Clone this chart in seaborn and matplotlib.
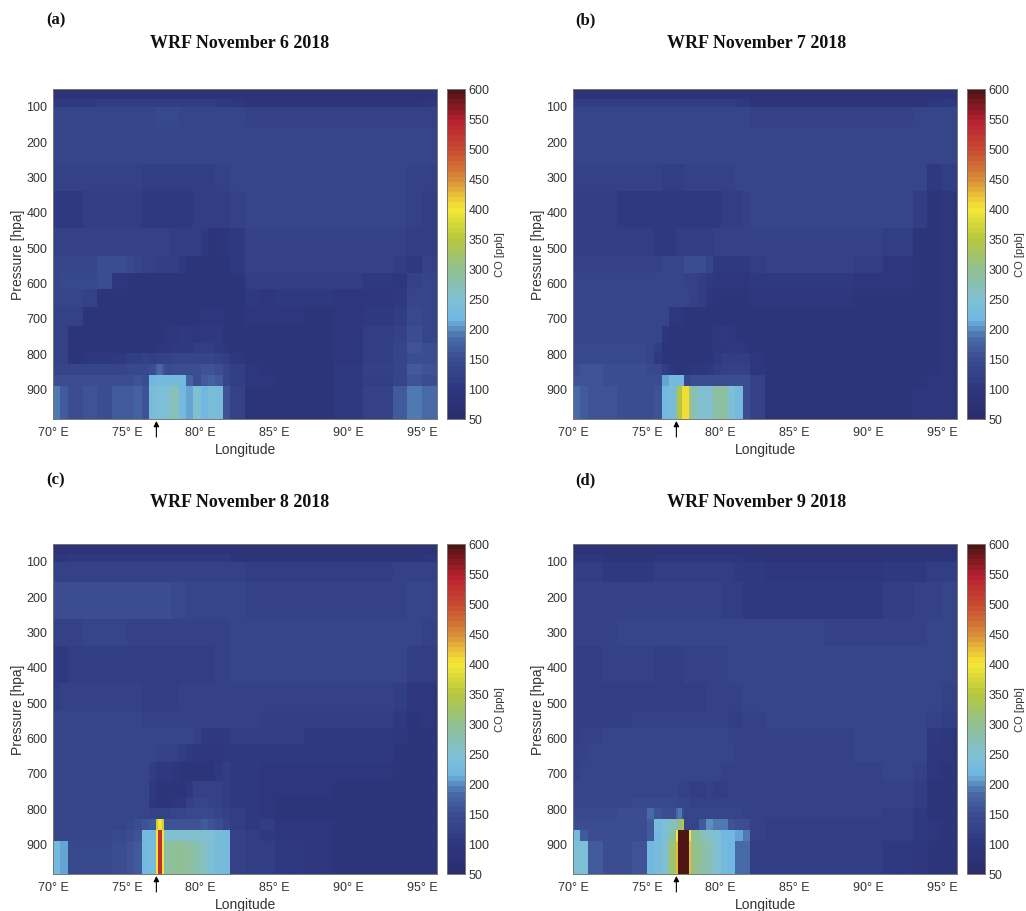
import numpy as np
import seaborn as sns
import matplotlib.pyplot as plt
from matplotlib.colors import LinearSegmentedColormap, ListedColormap

# cell edges of the model grid
lon_edges = [70, 70.5, 71, 72, 73, 74, 75, 75.5, 76, 76.5, 77, 77.125, 77.375, 77.5, 77.875, 78, 78.5,
             79, 79.5, 80, 80.5, 81, 81.5, 82, 83, 84, 85, 87, 89, 91, 93, 94, 95, 96]
p_edges = [52, 80, 104, 160, 263, 339, 442, 522, 569, 615, 666, 718, 766, 794, 827, 858, 888, 982]

co_nov6 = [
    [82,82,82,82,82,82,82,82,82,82,82,82,82,82,82,82,82,82,82,82,82,80,80,78,76,76,76,76,76,76,76,76,76],
    [108,108,110,110,112,112,112,112,112,112,112,112,112,112,112,112,112,112,112,112,112,108,105,95,88,88,88,88,88,90,90,92,95],
    [130,130,133,135,135,135,135,135,135,135,137,137,137,137,137,137,135,135,135,135,135,135,135,128,120,120,122,122,122,122,122,125,125],
    [130,130,130,130,130,130,130,130,130,130,130,130,130,130,130,130,130,130,130,130,130,130,130,130,130,130,130,130,130,130,130,130,128],
    [122,122,122,122,123,123,123,120,118,118,118,118,118,118,118,118,118,116,116,116,118,120,122,128,130,130,130,130,130,130,130,125,122],
    [102,102,105,112,115,115,115,112,108,108,106,106,108,110,110,110,110,110,112,112,114,116,118,125,130,130,130,130,130,130,128,120,115],
    [125,125,125,125,125,125,125,122,120,120,120,120,120,120,118,118,118,115,112,108,92,88,95,110,122,125,125,125,125,125,120,112,112],
    [130,130,132,135,145,145,140,130,122,120,118,118,115,115,112,112,105,90,86,85,85,85,85,102,122,125,125,125,125,122,115,110,125],
    [135,138,140,142,146,100,88,88,86,86,85,85,85,85,85,85,85,85,85,85,85,85,85,88,115,118,118,118,118,108,100,125,135],
    [130,132,135,125,88,86,85,85,85,85,85,85,85,85,85,85,85,85,85,85,85,85,85,90,105,100,105,105,95,100,110,135,135],
    [125,125,125,86,85,85,85,85,85,85,85,85,85,85,85,85,85,85,85,95,100,100,92,90,100,95,100,92,100,108,115,140,135],
    [120,120,88,85,85,85,85,85,85,85,85,85,85,95,100,100,105,105,100,105,110,105,92,90,90,90,88,88,100,112,125,150,135],
    [120,120,86,85,85,85,85,85,85,88,95,95,95,98,100,105,105,110,112,115,115,105,100,92,88,88,88,88,100,115,130,160,145],
    [125,125,92,95,100,110,115,118,120,118,122,122,122,125,125,128,130,130,132,130,128,125,112,100,92,90,88,88,100,118,135,150,150],
    [135,135,135,135,135,135,138,140,140,145,175,180,170,150,140,145,145,150,150,155,155,145,130,112,95,92,90,90,105,120,135,165,160],
    [150,145,150,148,150,152,152,155,150,218,225,225,225,225,225,225,222,175,150,165,175,170,135,115,100,95,92,92,105,118,130,155,150],
    [195,165,150,155,150,165,170,172,160,235,240,240,240,245,265,270,225,205,250,215,235,235,160,120,90,92,90,88,110,125,170,190,185],
]
co_nov7 = [
    [82,82,82,82,82,82,82,82,82,82,82,82,82,82,82,82,82,82,82,82,82,82,80,78,76,76,76,76,76,76,76,78,80],
    [112,112,112,112,112,112,112,112,112,112,112,112,112,112,112,112,112,112,112,112,112,110,105,92,90,90,90,90,90,90,92,95,105],
    [135,135,135,135,135,135,135,135,135,135,135,135,135,135,135,135,133,132,130,130,130,128,128,125,122,122,122,122,122,125,128,128,130],
    [132,132,132,135,135,135,135,135,135,135,133,133,133,133,133,133,133,133,135,135,135,135,135,135,135,135,135,135,135,135,135,130,132],
    [125,125,125,122,122,122,122,120,118,118,118,118,118,120,120,120,122,122,122,125,125,128,130,133,135,135,135,135,135,135,128,105,118],
    [115,115,115,112,105,102,102,102,102,102,102,102,102,104,104,104,104,108,110,112,115,118,122,130,135,135,135,135,135,132,112,90,100],
    [118,118,118,118,115,112,112,110,110,110,112,112,112,115,115,115,115,118,120,122,122,122,122,125,125,125,125,125,125,115,92,88,100],
    [125,125,125,125,125,122,122,125,128,130,135,135,135,145,145,145,145,130,110,105,105,105,108,118,125,125,125,125,118,100,88,88,100],
    [132,132,135,135,135,132,130,130,130,130,130,130,130,125,125,120,118,110,100,95,95,95,98,105,108,108,105,105,100,95,88,88,100],
    [135,135,135,135,135,135,133,133,133,133,130,130,130,130,125,122,118,95,90,90,90,90,92,100,95,100,98,98,90,88,88,88,100],
    [135,135,135,135,135,135,133,130,128,100,100,100,95,92,90,90,88,88,88,88,92,92,90,92,88,88,85,85,85,85,85,88,100],
    [135,135,135,135,135,135,135,132,100,86,85,85,85,85,85,85,85,85,100,105,100,92,92,90,88,85,85,85,85,85,85,88,100],
    [138,138,138,138,138,138,135,118,86,85,85,85,85,85,85,85,85,90,100,100,105,105,95,88,85,85,85,85,85,85,85,88,100],
    [142,142,142,142,140,138,135,110,86,85,85,85,85,85,85,88,90,92,110,115,115,118,118,100,88,85,85,85,85,85,85,88,100],
    [150,155,160,150,145,145,140,140,115,95,90,90,90,90,92,95,100,105,118,122,122,125,122,100,88,85,85,85,85,85,88,90,100],
    [155,160,155,150,145,145,148,150,210,225,225,225,225,140,140,145,145,148,145,148,148,145,150,120,92,88,85,85,85,88,90,95,100],
    [180,170,160,155,150,150,152,155,225,235,300,350,405,410,330,265,255,255,290,290,240,225,150,120,92,88,85,85,88,92,95,95,95],
]
co_nov8 = [
    [82,82,82,82,82,82,82,82,82,82,82,82,82,82,82,82,82,82,82,82,82,82,82,78,78,78,78,78,78,78,76,76,76],
    [100,100,102,105,105,108,108,108,108,108,108,108,108,108,108,108,108,108,108,108,108,105,102,92,88,88,85,85,88,88,88,90,95],
    [122,122,124,125,125,125,125,125,125,125,125,125,125,125,125,125,125,125,125,125,125,125,125,120,115,115,118,118,118,118,120,122,122],
    [148,148,148,148,148,148,145,145,145,145,145,145,145,145,145,140,138,135,135,135,135,135,135,130,125,125,125,125,125,125,125,128,130],
    [125,125,125,128,128,128,125,125,125,125,125,125,125,125,125,125,125,125,125,125,125,125,125,128,132,132,132,132,132,132,130,128,125],
    [108,108,112,115,115,115,115,115,115,115,115,115,115,115,115,115,115,115,118,118,118,122,122,128,135,135,135,135,135,132,130,112,118],
    [118,120,120,122,122,122,122,120,118,118,118,118,118,118,118,118,120,122,122,122,122,122,122,125,125,125,125,125,125,125,118,95,100],
    [128,128,130,135,135,135,130,128,125,125,125,125,125,125,125,125,125,125,125,125,125,125,125,125,122,118,118,118,118,118,108,90,95],
    [130,130,132,132,132,132,130,130,130,130,130,130,128,128,130,135,135,133,120,110,105,102,108,115,115,112,115,108,110,108,100,85,88],
    [130,130,130,130,130,130,130,128,128,128,125,125,125,125,125,120,115,108,100,95,95,100,105,108,108,108,105,105,102,105,90,85,85],
    [130,130,130,130,130,130,130,130,128,118,105,102,102,105,105,100,92,88,88,88,90,105,112,110,105,100,100,100,95,95,85,85,85],
    [130,130,130,130,130,130,130,130,128,105,92,90,90,90,90,90,92,105,125,125,125,120,115,108,105,100,95,95,92,92,88,85,85],
    [130,130,130,130,130,130,132,132,128,100,92,90,90,90,92,98,100,125,128,128,125,120,115,108,105,100,92,88,85,85,85,85,85],
    [135,135,135,135,135,135,135,135,130,125,125,125,125,125,125,130,135,140,142,142,140,135,125,112,105,100,92,85,85,85,85,85,85],
    [135,135,135,135,135,135,140,150,160,165,360,400,360,160,160,160,155,155,160,165,160,150,135,115,110,115,100,95,88,85,85,85,85],
    [135,135,135,135,135,140,145,155,225,225,400,530,400,255,250,250,250,250,250,250,250,235,230,125,112,110,100,95,88,85,85,85,85],
    [225,210,140,140,140,150,155,165,225,235,400,530,400,285,285,295,295,290,280,260,245,235,230,125,115,115,105,95,85,85,85,85,85],
]
co_nov9 = [
    [82,82,82,82,82,82,82,82,82,82,82,82,82,82,82,82,82,82,82,82,82,82,82,78,76,76,76,76,76,76,76,76,76],
    [100,100,98,92,92,92,92,95,98,100,100,100,100,100,100,100,100,100,100,100,98,95,92,88,84,84,84,84,84,85,88,90,92],
    [115,115,112,110,110,110,110,112,112,115,115,115,115,115,115,115,115,115,115,115,112,110,108,102,100,100,98,98,100,105,110,112,115],
    [120,120,120,120,120,122,122,125,125,125,125,125,125,125,125,125,125,122,120,118,115,112,110,108,105,105,105,108,110,115,122,125,128],
    [125,125,125,125,128,128,128,128,128,128,128,128,128,128,128,128,128,128,128,128,128,128,130,132,132,132,128,125,125,125,125,128,130],
    [118,118,118,122,122,122,120,118,118,118,118,118,118,120,120,122,122,125,125,125,128,130,130,132,132,132,132,132,132,130,130,128,130],
    [112,112,114,114,115,115,115,115,118,118,115,115,115,115,115,118,118,120,120,122,125,125,128,130,132,132,132,132,132,132,135,132,125],
    [115,115,115,115,118,125,125,125,125,125,125,125,125,125,125,125,125,125,122,120,118,118,120,125,130,130,130,130,130,132,135,125,115],
    [118,120,122,128,130,130,132,135,135,135,135,135,135,135,135,135,135,132,130,128,125,125,125,125,125,125,125,125,128,130,128,105,100],
    [122,125,128,130,130,132,135,135,135,135,135,135,135,135,135,135,135,135,135,132,128,125,122,122,122,122,122,122,128,130,128,100,95],
    [125,128,130,130,132,132,135,135,135,135,135,135,135,132,132,130,128,128,128,125,125,122,122,122,122,122,122,122,125,128,125,95,90],
    [128,130,132,132,132,132,135,135,135,130,130,125,122,122,120,118,118,122,118,115,122,125,122,122,122,122,122,122,125,125,118,92,88],
    [135,135,135,135,135,138,138,138,138,138,135,135,132,130,125,122,122,125,125,122,125,125,125,122,122,122,120,120,125,125,115,90,88],
    [140,140,140,140,145,148,185,160,150,148,185,190,150,135,130,128,128,130,130,128,128,128,125,120,120,120,120,120,120,115,105,92,90],
    [145,145,145,145,145,150,165,235,240,270,290,300,350,130,130,130,165,200,195,190,160,150,150,125,118,118,118,118,118,115,110,100,90],
    [230,170,150,150,150,150,165,225,240,290,400,600,600,600,400,295,270,260,240,220,220,205,190,120,115,118,118,118,118,115,105,95,90],
    [240,240,165,150,150,155,215,235,255,320,420,600,600,600,420,305,285,270,250,225,215,185,180,115,115,118,118,118,115,110,100,88,88],
]

panel_letters = ['(a)', '(b)', '(c)', '(d)']
panel_titles = ['WRF November 6 2018', 'WRF November 7 2018', 'WRF November 8 2018', 'WRF November 9 2018']
panel_data = [co_nov6, co_nov7, co_nov8, co_nov9]
lon_ticks = [70, 75, 80, 85, 90, 95]
p_ticks = [100, 200, 300, 400, 500, 600, 700, 800, 900]
cbar_ticks = [50, 100, 150, 200, 250, 300, 350, 400, 450, 500, 550, 600]
arrow_lon = 77

W, H = 1026, 912
TEXT = '#333333'

sns.set_theme(style='white')
plt.rcParams['font.family'] = ['Liberation Sans', 'DejaVu Sans']

# jet-like ramp of the original, banded in 64 steps
co_stops = [(0.0, '#2b2d6c'), (0.09, '#2e3880'), (0.18, '#3c4e92'), (0.25, '#4a72ac'), (0.30, '#6fb8e2'),
            (0.36, '#80c0d4'), (0.45, '#90c090'), (0.55, '#b8c83c'), (0.64, '#f6e836'), (0.73, '#d88c38'),
            (0.82, '#c84c30'), (0.91, '#b81f30'), (1.0, '#4f1414')]
co_cmap = ListedColormap(LinearSegmentedColormap.from_list('co', co_stops)(np.linspace(0, 1, 64)))

col_span = np.round(np.diff(lon_edges) * 8).astype(int)
row_span = np.round(np.diff(p_edges) / 2).astype(int)


def lon_pos(lon):
    return (np.asarray(lon, dtype=float) - 70) * 8


def p_pos(p):
    return (np.asarray(p, dtype=float) - 52) / 2


fig = plt.figure(figsize=(W / 100, H / 100), dpi=100)

for i, co in enumerate(panel_data):
    col, row = i % 2, i // 2
    left = 53 + col * 520
    top = 90 + row * 455
    ax = fig.add_axes([left / W, 1 - (top + 330) / H, 384 / W, 330 / H])
    cax = fig.add_axes([(left + 394) / W, 1 - (top + 330) / H, 18 / W, 330 / H])

    grid = np.repeat(np.repeat(np.array(co), row_span, axis=0), col_span, axis=1)
    sns.heatmap(grid, ax=ax, cbar_ax=cax, cmap=co_cmap, vmin=50, vmax=600,
                xticklabels=False, yticklabels=False, rasterized=True)

    ax.set_xticks(lon_pos(lon_ticks))
    ax.set_xticklabels([f'{v}° E' for v in lon_ticks], color=TEXT, fontsize=9)
    ax.set_xticks(lon_pos(np.arange(71, 96)), minor=True)
    ax.set_yticks(p_pos(p_ticks))
    ax.set_yticklabels([str(v) for v in p_ticks], color=TEXT, fontsize=9, rotation=0)
    ax.set_yticks(p_pos(np.arange(50, 1000, 50)[1:-1]), minor=True)
    ax.tick_params(which='major', direction='in', length=3, width=0.5, color='#444444',
                   top=True, right=True, bottom=True, left=True)
    ax.tick_params(axis='x', which='major', pad=5)
    ax.tick_params(axis='y', which='major', pad=4)
    ax.tick_params(which='minor', direction='in', length=2, width=0.4, color='#444444',
                   top=True, right=True, bottom=True, left=True)
    ax.set_xlabel('Longitude', color=TEXT, fontsize=10, labelpad=3)
    ax.set_ylabel('Pressure [hpa]', color=TEXT, fontsize=10, labelpad=1)
    for s in ax.spines.values():
        s.set_visible(True)
        s.set_color('#777777')
        s.set_linewidth(0.7)

    cbar = ax.collections[0].colorbar
    cbar.set_ticks(cbar_ticks)
    cbar.ax.tick_params(labelsize=9, labelcolor=TEXT, direction='in', length=2, width=0.5,
                        color='#444444', pad=2.5)
    cbar.set_label('CO [ppb]', fontsize=8, color=TEXT, labelpad=4)
    cbar.outline.set_visible(True)
    cbar.outline.set_edgecolor('#777777')
    cbar.outline.set_linewidth(0.7)

    # source marker under the axis
    ax.annotate('', xy=(lon_pos(arrow_lon), -2 / 330), xycoords=('data', 'axes fraction'),
                xytext=(lon_pos(arrow_lon), -18 / 330), textcoords=('data', 'axes fraction'),
                annotation_clip=False,
                arrowprops=dict(arrowstyle='-|>', color='black', lw=0.8, mutation_scale=8,
                                shrinkA=0, shrinkB=0))

    fig.text((46 + col * 529) / W, 1 - (20 + row * 460) / H, panel_letters[i], family='Liberation Serif',
             fontweight='bold', fontsize=12, color='#111111', va='center', ha='left')
    fig.text((240 + col * 517) / W, 1 - (43 + row * 460) / H, panel_titles[i], family='Liberation Serif',
             fontweight='bold', fontsize=13, color='#111111', va='center', ha='center')

fig.savefig('out.png', dpi=100)
